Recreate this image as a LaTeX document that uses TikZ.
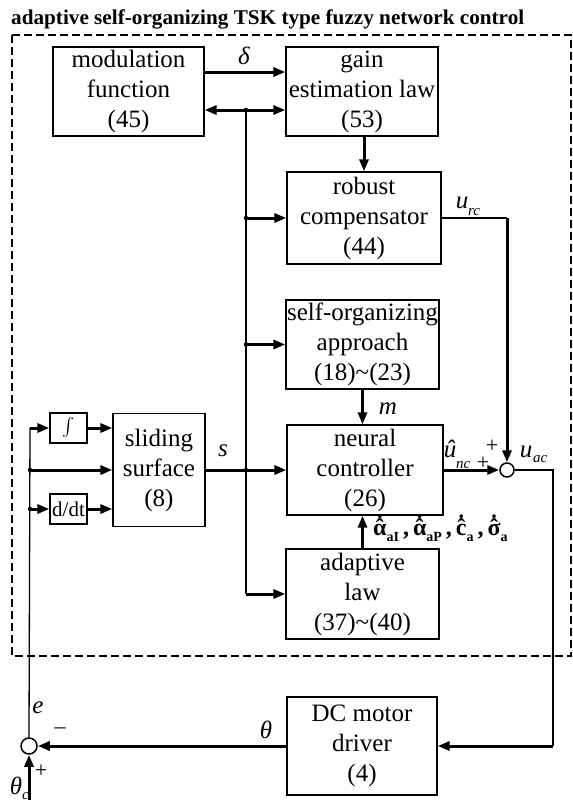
\documentclass[tikz,border=0pt]{standalone}
\usepackage{fontspec}
\usepackage{graphicx}
\setmainfont{Liberation Serif}
\usetikzlibrary{arrows.meta}
\newcommand\hatdot[1]{{\ooalign{#1\cr\hidewidth\raisebox{-0.04em}{ˆ}\hidewidth\cr\hidewidth\raisebox{0.16em}{˙}\hidewidth\cr}}}
\newcommand\subb[1]{\raisebox{-0.25em}{\fontsize{14}{14}\selectfont\bfseries #1}}
\begin{document}
\begin{tikzpicture}[x=1pt,y=-1pt,
  blk/.style={draw, line width=1.3pt, inner sep=0pt, align=center,
              font=\fontsize{25}{30}\selectfont},
  thinl/.style={line width=1.3pt},
  arr/.style={-{Triangle[length=12pt,width=9pt]}, line width=3pt},
  jdot/.style={circle, fill, inner sep=0pt, minimum size=4.5pt},
  sumc/.style={circle, draw, line width=1.5pt, minimum size=14pt, inner sep=0pt},
  lbl/.style={inner sep=0pt, font=\fontsize{25}{25}\selectfont\itshape},
  sub/.style={inner sep=0pt, font=\fontsize{15}{15}\selectfont\itshape},
  sgn/.style={inner sep=0pt, font=\fontsize{22}{22}\selectfont},
]
\useasboundingbox (0,0) rectangle (573,804);

% title and frame
\node[anchor=base west, inner sep=0pt, font=\fontsize{21}{21}\selectfont\bfseries] (title) at (11,24)
  {\resizebox{513pt}{\height}{adaptive self-organizing TSK type fuzzy network control}};
\draw[line width=2.5pt, dash pattern=on 8pt off 4pt] (12,35) rectangle (571,656);

% blocks
\node[blk, minimum width=151pt, minimum height=89pt] (mod) at (128.5,91.5) {modulation\\function\\(45)};
\node[blk, minimum width=152pt, minimum height=89pt] (gain) at (362,91.5) {gain\\estimation law\\(53)};
\node[blk, minimum width=154pt, minimum height=92pt] (rob) at (364,218) {robust\\compensator\\(44)};
\node[blk, minimum width=153pt, minimum height=89pt] (som) at (362.5,344.5) {self-organizing\\approach\\(18)\textasciitilde(23)};
\node[blk, minimum width=156pt, minimum height=90pt] (neu) at (365,470) {neural\\controller\\(26)};
\node[blk, minimum width=153pt, minimum height=90pt] (ada) at (362.5,594) {adaptive\\law\\(37)\textasciitilde(40)};
\node[blk, minimum width=92pt, minimum height=113pt] (sld) at (159,470) {sliding\\surface\\(8)};
\node[blk, minimum width=37pt, minimum height=30pt] (int) at (68.5,428) {\scalebox{1.8}{$\int$}};
\node[blk, minimum width=37pt, minimum height=30pt, font=\fontsize{21}{21}\selectfont] (ddt) at (68.5,509) {d/dt};
\node[blk, minimum width=150pt, minimum height=98pt] (dc) at (362,746) {DC motor\\driver\\(4)};

% summing junctions
\node[sumc] (sum) at (507,470) {};
\node[sumc, minimum size=16pt] (sume) at (29,746) {};

% junction coordinates
\coordinate (j1) at (246,110);
\coordinate (j2) at (246,218);
\coordinate (j3) at (246,344.5);
\coordinate (j4) at (246,470);
\coordinate (j5) at (246,594);
\coordinate (l1) at (30,428);
\coordinate (l2) at (30,470);
\coordinate (l3) at (30,509);
\coordinate (rr) at (553,746);
\coordinate (tc) at (29,800);
\coordinate (dl) at (204,72);

% top connectors
\draw[arr] (dl) -- (dl -| gain.west);
\draw[arr] (j1) -- (j1 -| mod.east);
\draw[arr] (j1) -- (j1 -| gain.west);
\draw[thinl] (j1) -- (j5);
\draw[arr] (j2) -- (j2 -| rob.west);
\draw[arr] (j3) -- (j3 -| som.west);
\draw[arr] (j5) -- (j5 -| ada.west);
\draw[arr] (sld.east) -- (neu.west);
\draw[arr] (gain.south -| rob.north) -- (rob.north);
\draw[arr] (som.south) -- (som.south |- neu.north);
\draw[arr] (ada.north) -- (ada.north |- neu.south);
\node[jdot] at (j1) {};
\node[jdot] at (j2) {};
\node[jdot] at (j3) {};
\node[jdot] at (j4) {};

% outputs to summing junction
\draw[thinl] (rob.east) -- (rob.east -| sum.north);
\draw[arr] (rob.east -| sum.north) -- (sum.north);
\draw[arr] (neu.east) -- (sum.west);
\draw[thinl] (sum.east) -| (rr);
\draw[arr] (rr) -- (dc.east);
\draw[arr] (dc.west) -- (sume.east);

% feedback / left side
\draw[thinl] (sume.north) -- (l1);
\draw[arr] (l1) -- (int.west);
\draw[arr] (int.east) -- (int.east -| sld.west);
\draw[arr] (l2) -- (l2 -| sld.west);
\draw[arr] (l3) -- (ddt.west);
\draw[arr] (ddt.east) -- (ddt.east -| sld.west);
\node[jdot] at (l2) {};
\node[jdot] at (l3) {};
\draw[arr] (tc) -- (sume.south);

% labels
\node[lbl] (ldelta) at (244,56) {δ};
\node[lbl] (ls) at (223,451) {s};
\node[lbl] (lm) at (388,409) {m};
\node[lbl] (lurc) at (462,203) {u};
\node[sub, anchor=west] (lurcs) at (468,212) {rc};
\node[lbl] (lunc) at (450,452) {\ooalign{u\cr\hidewidth\raisebox{0.02em}{ˆ}\hidewidth\cr}};
\node[sub, anchor=west] (luncs) at (456,465) {nc};
\node[lbl] (luac) at (526,452) {u};
\node[sub, anchor=west] (luacs) at (533,459) {ac};
\node[sgn] (p1) at (483,463) {+};
\node[sgn] (p2) at (492,446) {+};
\node[lbl] (le) at (38,708) {e};
\node[sgn] (mn) at (60,731) {–};
\node[lbl] (lth) at (266,730) {θ};
\node[lbl] (lthc) at (16,786) {θ};
\node[sub, anchor=west] (lthcs) at (22,796) {c};
\node[sgn] (p3) at (41,771) {+};
\node[anchor=base west, inner sep=0pt, font=\fontsize{24}{24}\selectfont\bfseries] (lalpha) at (373,535)
  {\hatdot{α}\subb{aI}\,,\,\hatdot{α}\subb{aP}\,,\,\hatdot{c}\subb{a}\,,\,\hatdot{σ}\subb{a}};
\end{tikzpicture}
\end{document}
